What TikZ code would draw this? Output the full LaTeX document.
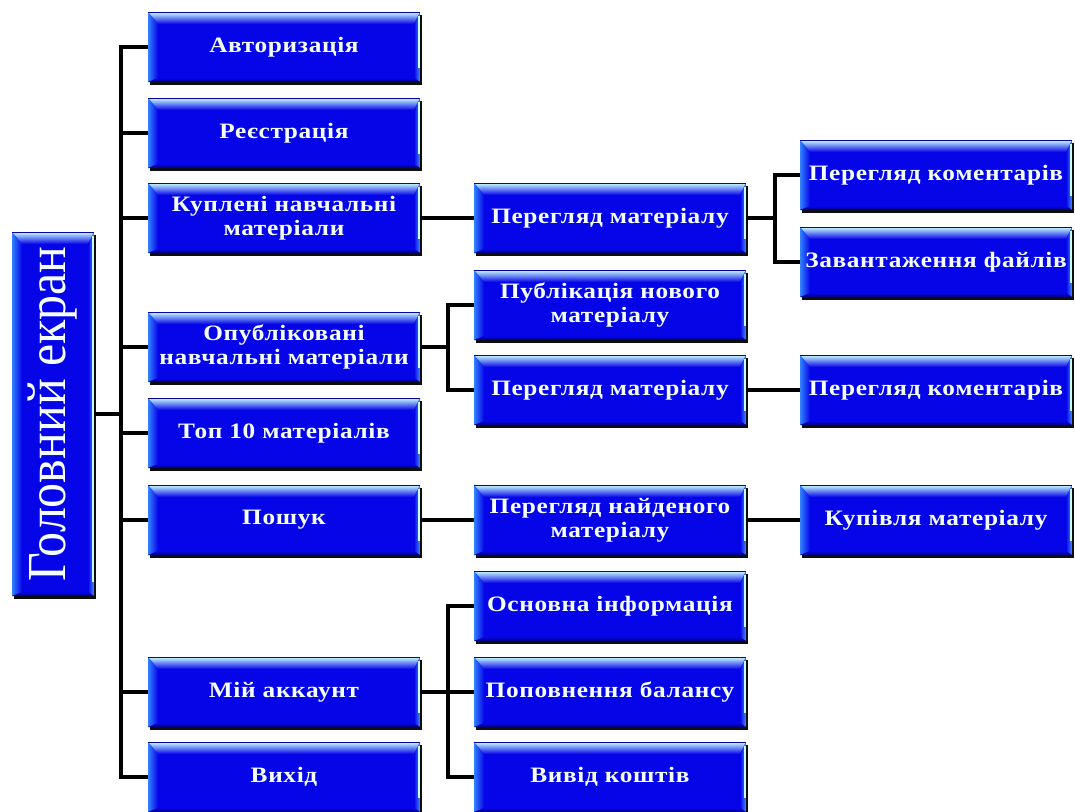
\documentclass[tikz,border=0pt]{standalone}
\usepackage{fontspec}
\usepackage{graphicx}
\setmainfont{Liberation Serif}
\newfontfamily\boxfont[LetterSpace=3,FakeStretch=1.15]{Liberation Serif}
\usetikzlibrary{shadows}
\definecolor{boxblue}{RGB}{5,5,232}
\definecolor{bevtop}{RGB}{200,252,255}
\definecolor{bevleft}{RGB}{50,130,255}
\definecolor{bevright}{RGB}{70,140,255}
\definecolor{bevbot}{RGB}{0,0,110}
\definecolor{txt}{RGB}{245,255,255}
\tikzset{
  bevel/.style={
    fill=boxblue,
    drop shadow={shadow xshift=2pt,shadow yshift=-3pt,fill=black,opacity=0.95},
    path picture={
      \path (path picture bounding box.north west) coordinate (ppnw)
            (path picture bounding box.north east) coordinate (ppne)
            (path picture bounding box.south west) coordinate (ppsw)
            (path picture bounding box.south east) coordinate (ppse);
      \shade[top color=bevtop, bottom color=boxblue]
        (ppnw) -- (ppne) -- ([shift={(-6pt,-12pt)}]ppne) -- ([shift={(10pt,-12pt)}]ppnw) -- cycle;
      \shade[left color=bevleft, right color=boxblue]
        (ppnw) -- ([shift={(10pt,-12pt)}]ppnw) -- ([shift={(10pt,4pt)}]ppsw) -- (ppsw) -- cycle;
      \shade[left color=boxblue, right color=bevright]
        (ppne) -- ([shift={(-6pt,-12pt)}]ppne) -- ([shift={(-6pt,4pt)}]ppse) -- (ppse) -- cycle;
      \fill[bevtop] ([shift={(-2pt,-4pt)}]ppne) rectangle ([shift={(0pt,14pt)}]ppse);
      \shade[top color=boxblue, bottom color=bevbot]
        (ppsw) -- ([shift={(10pt,4pt)}]ppsw) -- ([shift={(-6pt,4pt)}]ppse) -- (ppse) -- cycle;
      \fill[boxblue!70!black] (ppnw) rectangle ([shift={(0pt,-1.2pt)}]ppne);
    }},
  bx/.style={bevel, rectangle, inner sep=0pt, minimum width=272pt, minimum height=70pt,
    text=txt, align=center, font=\boxfont\bfseries\fontsize{22}{24}\selectfont},
  rootbox/.style={bevel, rectangle, inner sep=0pt, minimum width=82pt, minimum height=364pt,
    text=txt, font=\fontsize{50}{56}\selectfont},
  conn/.style={line width=4pt, black, line cap=butt},
}
\begin{document}
\begin{tikzpicture}[x=1pt,y=-1pt]
\useasboundingbox (0,0) rectangle (1075,811);
% root
\node[rootbox] (root) at (53,414) {\rotatebox{90}{\scalebox{1}[1.1]{Головний екран}}};
% column 1
\node[bx] (auth) at (284,47) {Авторизація};
\node[bx] (reg) at (284,133) {Реєстрація};
\node[bx] (kup) at (284,218) {Куплені навчальні\\матеріали};
\node[bx] (opub) at (284,347) {Опубліковані\\навчальні матеріали};
\node[bx] (top) at (284,433) {Топ 10 матеріалів};
\node[bx] (posh) at (284,520) {Пошук};
\node[bx] (acc) at (284,692) {Мій аккаунт};
\node[bx] (exit) at (284,777) {Вихід};
% column 2
\node[bx] (pm1) at (610,218) {Перегляд матеріалу};
\node[bx] (pub) at (610,305) {Публікація нового\\матеріалу};
\node[bx] (pm2) at (610,390) {Перегляд матеріалу};
\node[bx] (pnm) at (610,520) {Перегляд найденого\\матеріалу};
\node[bx] (info) at (610,606) {Основна інформація};
\node[bx] (bal) at (610,692) {Поповнення балансу};
\node[bx] (out) at (610,777) {Вивід коштів};
% column 3
\node[bx] (pk1) at (936,175) {Перегляд коментарів};
\node[bx] (zav) at (936,262) {Завантаження файлів};
\node[bx] (pk2) at (936,390) {Перегляд коментарів};
\node[bx] (kupiv) at (936,520) {Купівля матеріалу};
% spine coordinates
\coordinate (sp1) at (121,0);
\coordinate (sp2) at (448,0);
\coordinate (sp3) at (775,0);
% connectors
\draw[conn] (root.east) -- (root.east -| sp1);
\draw[conn] (auth.west) -| (sp1 |- exit.west) -- (exit.west);
\foreach \n in {reg,kup,opub,top,posh,acc} {\draw[conn] (\n.west) -- (\n.west -| sp1);}
\draw[conn] (kup.east) -- (pm1.west);
\draw[conn] (pm1.east) -- (pm1.east -| sp3);
\draw[conn] (pk1.west) -| (sp3 |- zav.west) -- (zav.west);
\draw[conn] (opub.east) -- (opub.east -| sp2);
\draw[conn] (pub.west) -| (sp2 |- pm2.west) -- (pm2.west);
\draw[conn] (pm2.east) -- (pk2.west);
\draw[conn] (posh.east) -- (pnm.west);
\draw[conn] (pnm.east) -- (kupiv.west);
\draw[conn] (acc.east) -- (acc.east -| sp2);
\draw[conn] (info.west) -| (sp2 |- out.west) -- (out.west);
\draw[conn] (bal.west) -- (bal.west -| sp2);
\end{tikzpicture}
\end{document}
